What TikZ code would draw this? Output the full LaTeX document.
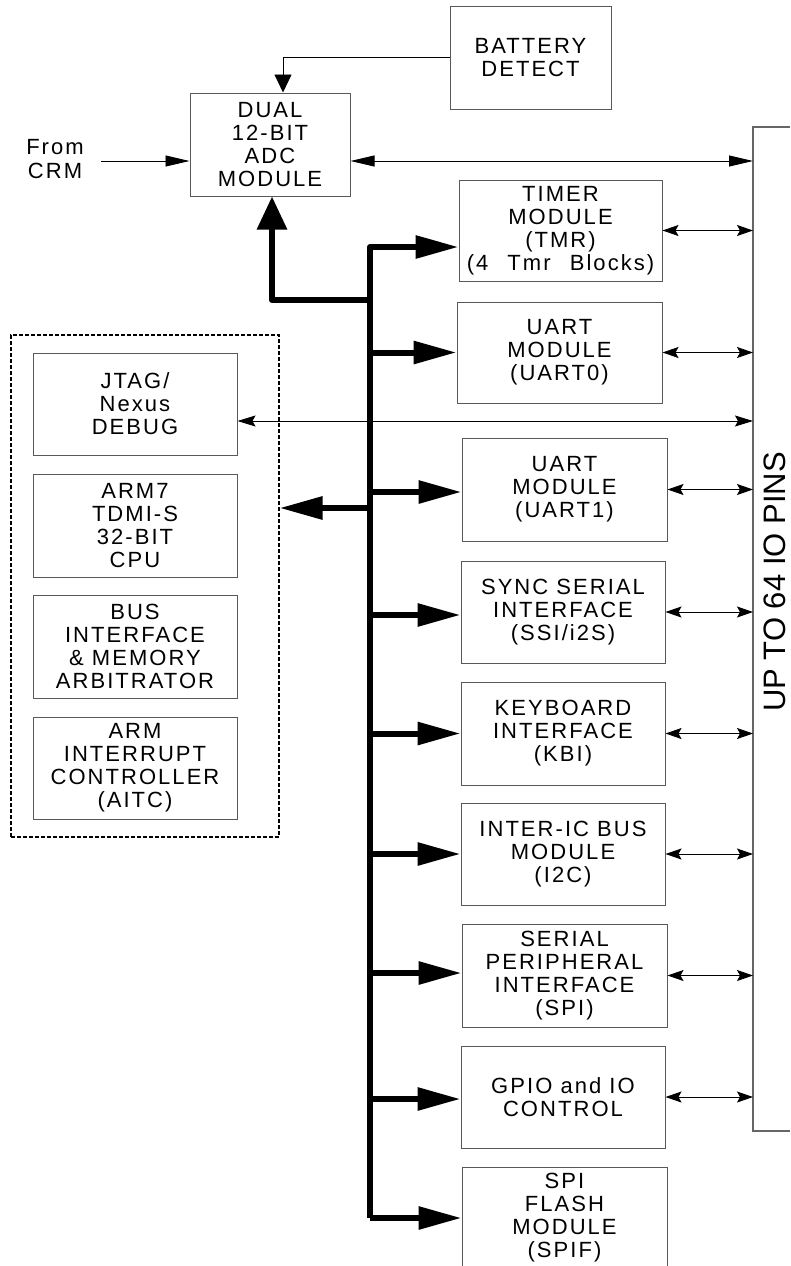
\documentclass[tikz,border=0pt]{standalone}
\usepackage{fontspec}
\setmainfont{Liberation Sans}
\newfontfamily\lblfont[LetterSpace=9.3]{Liberation Sans}
\newfontfamily\pinsfont{Liberation Sans}
\usetikzlibrary{arrows.meta}
\tikzset{
  box/.style={draw=black!65, line width=1pt, inner sep=0pt, align=center,
    font=\lblfont\fontsize{22}{23}\selectfont, text=black},
  thick bus/.style={line width=6pt, line join=round},
  branch/.style={thick bus, -{Triangle[length=43pt,width=22pt]}},
  upbranch/.style={thick bus, -{Triangle[length=33pt,width=29pt]}},
  pinarrow/.style={line width=0.9pt, {Stealth[length=16pt,width=11pt,inset=3pt]}-{Stealth[length=16pt,width=11pt,inset=3pt]}},
  longarrow/.style={line width=0.9pt, {Triangle[length=24pt,width=11pt]}-{Triangle[length=24pt,width=11pt]}},
  jtagarrow/.style={line width=0.9pt, {Stealth[length=18pt,width=11pt,inset=3pt]}-{Stealth[length=18pt,width=11pt,inset=3pt]}},
  onearrow/.style={line width=0.9pt, -{Triangle[length=24pt,width=11pt]}},
  batarrow/.style={line width=0.9pt, -{Triangle[length=18pt,width=17pt]}},
}
\begin{document}
\begin{tikzpicture}[x=1pt,y=-1pt]
\useasboundingbox (0,0) rectangle (790,1266);

% boxes
\node[box, minimum width=161pt, minimum height=103pt] (battery) at (530.5,57.5) {BATTERY\\DETECT};
\node[box, minimum width=160pt, minimum height=103pt] (adc) at (270,144.5) {DUAL\\12-BIT\\ADC\\MODULE};
\node[box, minimum width=203pt, minimum height=101pt] (timer) at (560.5,230.5) {TIMER\\MODULE\\(TMR)\\(4\hspace{11pt} Tmr\hspace{11pt} Blocks)};
\node[box, minimum width=205pt, minimum height=101pt] (uart0) at (559.5,352.5) {UART\\MODULE\\(UART0)};
\node[box, minimum width=205pt, minimum height=103pt] (uart1) at (564.5,489.5) {UART\\MODULE\\(UART1)};
\node[box, minimum width=204pt, minimum height=102pt] (ssi) at (563,612) {SYNC SERIAL\\INTERFACE\\(SSI/i2S)};
\node[box, minimum width=204pt, minimum height=103pt] (kbi) at (563,733.5) {KEYBOARD\\INTERFACE\\(KBI)};
\node[box, minimum width=204pt, minimum height=102pt] (i2c) at (563,854) {INTER-IC BUS\\MODULE\\(I2C)};
\node[box, minimum width=205pt, minimum height=103pt] (spi) at (564.5,975.5) {SERIAL\\PERIPHERAL\\INTERFACE\\(SPI)};
\node[box, minimum width=204pt, minimum height=102pt] (gpio) at (563,1097) {GPIO and IO\\CONTROL};
\node[box, minimum width=205pt, minimum height=102pt] (spif) at (564.5,1218) {SPI\\FLASH\\MODULE\\(SPIF)};

\node[draw=black, line width=1.1pt, dash pattern=on 4pt off 2pt, minimum width=268pt, minimum height=502pt, inner sep=0pt] (core) at (145,586) {};
\node[box, minimum width=204pt, minimum height=102pt] (jtag) at (135,404) {JTAG/\\Nexus\\DEBUG};
\node[box, minimum width=204pt, minimum height=103pt] (arm7) at (135,525.5) {ARM7\\TDMI-S\\32-BIT\\CPU};
\node[box, minimum width=204pt, minimum height=103pt] (busif) at (135,646.5) {BUS\\INTERFACE\\\& MEMORY\\ARBITRATOR};
\node[box, minimum width=204pt, minimum height=102pt] (aitc) at (135,768) {ARM\\INTERRUPT\\CONTROLLER\\(AITC)};

\node[align=center, inner sep=0pt, font=\lblfont\fontsize{22}{24}\selectfont] (crm) at (55,159) {From\\CRM};
\node[rotate=90, inner sep=0pt, font=\pinsfont\fontsize{31}{36}\selectfont] (pins) at (775,582) {UP TO 64 IO PINS};

% pins bracket
\coordinate (ptop) at (753,127);
\coordinate (pbot) at (753,1131);
\draw[black!60, line width=1.5pt] (790,127) -- (ptop) -- (pbot) -- (790,1131);

% thin arrows
\coordinate (crmstart) at (101,161);
\draw[onearrow] (crmstart) -- (adc.west |- crmstart);
\draw[longarrow] (adc.east |- crmstart) -- (ptop |- crmstart);
\coordinate (batend) at ([xshift=13pt]adc.north);
\draw[batarrow] (battery.west) -| (batend);
\coordinate (jtagp) at ([yshift=-17pt]jtag.east);
\draw[jtagarrow] (jtagp) -- (ptop |- jtagp);

\foreach \n in {timer,uart0,uart1,ssi,kbi,i2c,spi,gpio}
  \draw[pinarrow] (\n.east) -- (ptop |- \n.east);

% bus
\coordinate (busx) at (370,0);
\coordinate (tbr) at (370,247);
\coordinate (adcbr) at (370,300);
\coordinate (adccorner) at (272,300);
\coordinate (adcend) at ([xshift=2pt]adc.south);
\draw[branch] (busx |- spif.west) -- (tbr) -- (timer.west |- tbr);
\draw[branch] (busx |- spif.west) -- (spif.west);
\draw[upbranch] (adcbr) -- (adccorner) -- (adcend);
\foreach \n/\s in {uart0/0, uart1/-2.5, ssi/-3, kbi/0, i2c/0, spi/2.5, gpio/-2}{
  \coordinate (tip) at ([yshift=\s pt]\n.west);
  \draw[branch] (busx |- tip) -- (tip);
}
\coordinate (cpuy) at (0,508);
\draw[branch] (busx |- cpuy) -- (core.east |- cpuy);
\end{tikzpicture}
\end{document}
